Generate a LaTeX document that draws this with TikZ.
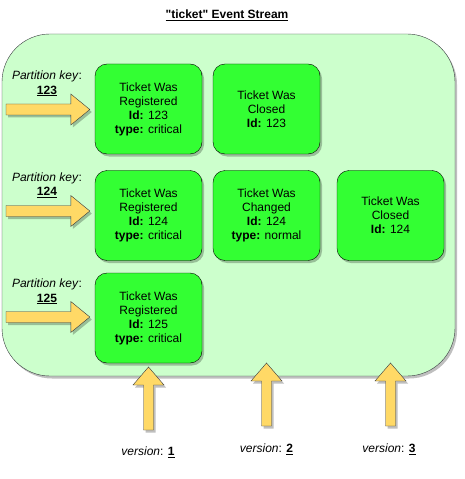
\documentclass[tikz,border=0pt]{standalone}
\usepackage{fontspec}
\setmainfont{Liberation Sans}
\newfontfamily\titlefont{Liberation Sans}[Ligatures=TeXOff]
\usetikzlibrary{shadows,calc}
\definecolor{streamfill}{HTML}{CCFFCC}
\definecolor{eventfill}{HTML}{33FF33}
\definecolor{arrowfill}{HTML}{FFD966}
\definecolor{edgegray}{HTML}{36393D}
\tikzset{
	shade/.style={drop shadow={shadow xshift=2bp,shadow yshift=-2.5bp,opacity=0.25,fill=black}},
	event/.style={draw=black,fill=eventfill,rounded corners=12bp,minimum width=107bp,minimum height=90bp,align=center,inner sep=0pt,font=\fontsize{12bp}{14bp}\selectfont,shade},
	lbl/.style={align=center,inner sep=0pt,font=\fontsize{12bp}{14.5bp}\selectfont},
	blockarrow/.style={draw=edgegray,fill=arrowfill,line join=miter,shade}
}
\begin{document}
\begin{tikzpicture}[x=1bp,y=-1bp]
	\useasboundingbox (0,0) rectangle (465,479);
	% stream container
	\draw[draw=edgegray,fill=streamfill,rounded corners=48bp,shade] (2,34) rectangle (455,376);
	\node[lbl,font=\titlefont\bfseries\fontsize{12bp}{14bp}\selectfont] (title) at (227,15) {\underline{"ticket" Event Stream}};
	% events
	\node[event] (reg123) at (148.5,109) {Ticket Was\\Registered\\\textbf{Id:} 123\\\textbf{type:} critical};
	\node[event] (cls123) at (266.5,109) {Ticket Was\\Closed\\\textbf{Id:} 123};
	\node[event] (reg124) at (148.5,215.5) {Ticket Was\\Registered\\\textbf{Id:} 124\\\textbf{type:} critical};
	\node[event] (chg124) at (266.5,215.5) {Ticket Was\\Changed\\\textbf{Id:} 124\\\textbf{type:} normal};
	\node[event] (cls124) at (390.5,215.5) {Ticket Was\\Closed\\\textbf{Id:} 124};
	\node[event] (reg125) at (148.5,318) {Ticket Was\\Registered\\\textbf{Id:} 125\\\textbf{type:} critical};
	% partition keys
	\node[lbl] (key123) at (47,83.5) {\textit{Partition key}:\\\textbf{\underline{123}}};
	\node[lbl] (key124) at (47,185) {\textit{Partition key}:\\\textbf{\underline{124}}};
	\node[lbl] (key125) at (47,291.5) {\textit{Partition key}:\\\textbf{\underline{125}}};
	% versions
	\node[lbl] (ver1) at (148,452) {\textit{version}: \textbf{\underline{1}}};
	\node[lbl] (ver2) at (266.5,449) {\textit{version}: \textbf{\underline{2}}};
	\node[lbl] (ver3) at (389,449) {\textit{version}: \textbf{\underline{3}}};
	% arrows into the partitions
	\foreach \ev/\yy in {reg123/109.5,reg124/211,reg125/317}
		\draw[blockarrow] ($(\ev.west |- 0,\yy)+(-5,0)$) coordinate (tip-\ev) -- ++(-19,-15.5) -- ++(0,10) -- (6,\yy-5.5) -- (6,\yy+5.5) -- ($(tip-\ev)+(-19,5.5)$) -- ++(0,10) -- cycle;
	% version arrows
	\foreach \ev/\yy/\len in {reg125/367/63,chg124/363/63,cls124/363/63}
		\draw[blockarrow] (\ev.south |- 0,\yy) coordinate (up-\ev) -- ++(15.5,18) -- ++(-10.5,0) -- ++(0,\len-18) -- ++(-10,0) -- ++(0,18-\len) -- ++(-10.5,0) -- cycle;
\end{tikzpicture}
\end{document}
